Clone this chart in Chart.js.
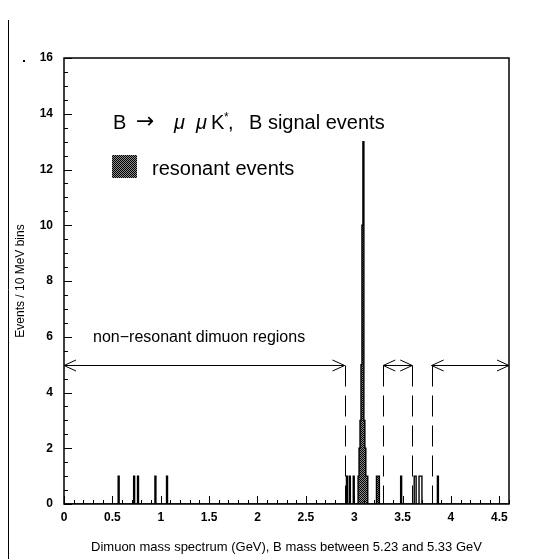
<!DOCTYPE html>
<html><head><meta charset="utf-8">
<script src="https://cdn.jsdelivr.net/npm/chart.js@4.4.1/dist/chart.umd.min.js"></script>
<style>html,body{margin:0;padding:0;background:#fff}canvas{display:block}</style>
</head><body>
<canvas id="c" width="557" height="559"></canvas>
<script>
// ---- data (bin low edges in GeV, 10 MeV bins) ----
const binWidth = 0.01;
const xMin = 0, xMax = 4.6;
const allEventBins   = [0.57,0.73,0.77,0.95,1.07,2.93,2.96,3.00,3.05,3.06,3.07,3.08,3.09,3.10,3.11,3.12,3.13,3.14,3.24,3.25,3.26,3.49,3.63,3.64,3.68,3.69,3.70,3.87];
const allEventCounts = [1,   1,   1,   1,   1,   1,   1,   1,   1,   2,   3,   5,   10,  13,  3,   2,   1,   1,   1,   1,   1,   1,   1,   1,   1,   1,   1,   1];
const resonantBins   = [3.05,3.06,3.07,3.08,3.09,3.10,3.11,3.12,3.13,3.14,3.24,3.25,3.26];
const resonantCounts = [1,   2,   3,   5,   10,  13,  3,   2,   1,   1,   1,   1,   1];
const xTickLabels = ['0','0.5','1','1.5','2','2.5','3','3.5','4','4.5'];
const yTickLabels = ['0','2','4','6','8','10','12','14','16'];
const regionRanges = [[0,2.9],[3.3,3.6],[3.8,4.6]];
const cutLines = [2.9,3.3,3.6,3.8];
const arrowLevel = 5;

function histPoints(bins, counts) {
  const n = Math.round((xMax - xMin) / binWidth);
  const arr = new Array(n).fill(0);
  bins.forEach((b, i) => { arr[Math.round((b - xMin) / binWidth)] += counts[i]; });
  const pts = arr.map((c, i) => ({x: xMin + i * binWidth, y: c}));
  pts.push({x: xMax, y: 0});
  return pts;
}

const canvas = document.getElementById('c');
const ctx0 = canvas.getContext('2d');
const patCanvas = document.createElement('canvas');
patCanvas.width = 2; patCanvas.height = 2;
const pg = patCanvas.getContext('2d');
pg.fillStyle = '#8c8c8c'; pg.fillRect(0,0,2,2);
pg.fillStyle = '#000'; pg.fillRect(0,0,1,1); pg.fillRect(1,1,1,1);
const stipple = ctx0.createPattern(patCanvas, 'repeat');

const FONT = '"Liberation Sans", Arial, sans-serif';

const decor = {
  id: 'decor',
  afterDatasetsDraw(chart) {
    const {ctx, chartArea: a, scales: {x, y}} = chart;
    ctx.save();
    ctx.strokeStyle = '#000';
    // dashed cut lines
    ctx.lineWidth = 1;
    ctx.setLineDash([21, 9]);
    const py5 = Math.round(y.getPixelForValue(arrowLevel)) + 0.5;
    cutLines.forEach(v => {
      const px = Math.round(x.getPixelForValue(v)) + 0.5;
      ctx.beginPath(); ctx.moveTo(px, py5); ctx.lineTo(px, y.getPixelForValue(0)); ctx.stroke();
    });
    ctx.setLineDash([]);
    // double arrows
    regionRanges.forEach(([v0, v1]) => {
      const x0 = x.getPixelForValue(v0), x1 = x.getPixelForValue(v1);
      ctx.beginPath();
      ctx.moveTo(x0, py5); ctx.lineTo(x1, py5);
      ctx.moveTo(x0 + 12, py5 - 5.5); ctx.lineTo(x0, py5); ctx.lineTo(x0 + 12, py5 + 5.5);
      ctx.moveTo(x1 - 12, py5 - 5.5); ctx.lineTo(x1, py5); ctx.lineTo(x1 - 12, py5 + 5.5);
      ctx.stroke();
    });
    // inward ticks
    ctx.lineWidth = 1;
    ctx.beginPath();
    for (let k = 0; k <= 32; k++) {
      const v = k * 0.5;
      const py = Math.round(y.getPixelForValue(v)) + 0.5;
      const len = (k % 4 === 0) ? 8 : 4;
      ctx.moveTo(a.left, py); ctx.lineTo(a.left + len, py);
    }
    for (let k = 0; k <= 46; k++) {
      const v = k * 0.1;
      const px = Math.round(x.getPixelForValue(v)) + 0.5;
      const len = (k % 5 === 0) ? 8 : 4;
      ctx.moveTo(px, a.bottom); ctx.lineTo(px, a.bottom - len);
    }
    ctx.stroke();
    // frame
    ctx.lineWidth = 1.5;
    ctx.strokeRect(a.left, a.top, a.right - a.left, a.bottom - a.top);
    // outer left line and small dot
    ctx.lineWidth = 1;
    ctx.beginPath(); ctx.moveTo(8.5, 20); ctx.lineTo(8.5, 559); ctx.stroke();
    ctx.fillStyle = '#000';
    ctx.fillRect(23, 60, 2, 2);
    ctx.restore();
  },
  afterDraw(chart) {
    const {ctx, scales: {x}} = chart;
    ctx.save();
    ctx.fillStyle = '#000';
    ctx.textBaseline = 'alphabetic';
    ctx.textAlign = 'left';
    // title line
    const by = 129;
    ctx.font = '20px ' + FONT;
    ctx.fillText('B', 113, by);
    ctx.font = '22px "DejaVu Sans", sans-serif';
    ctx.fillText('\u2192', 136, by - 1);
    ctx.font = 'italic 20px ' + FONT;
    ctx.fillText('\u03bc', 174, by);
    ctx.fillText('\u03bc', 196, by);
    ctx.font = '20px ' + FONT;
    ctx.fillText('K', 211, by);
    ctx.font = '12px ' + FONT;
    ctx.fillText('*', 224, by - 8);
    ctx.font = '20px ' + FONT;
    ctx.fillText(',', 228, by);
    ctx.fillText('B signal events', 249, by);
    // legend
    ctx.fillStyle = stipple;
    ctx.fillRect(112, 155, 25, 23);
    ctx.fillStyle = '#000';
    ctx.font = '20px ' + FONT;
    ctx.fillText('resonant events', 152, 175);
    // region label
    ctx.font = '16px ' + FONT;
    ctx.fillText('non\u2212resonant dimuon regions', x.getPixelForValue(0.3), 342);
    ctx.restore();
  }
};

new Chart(canvas, {
  type: 'line',
  data: {
    datasets: [
      {
        label: 'all events',
        data: histPoints(allEventBins, allEventCounts),
        stepped: 'after',
        borderColor: '#000',
        borderWidth: 1.4,
        pointRadius: 0,
        fill: false,
        order: 0
      },
      {
        label: 'resonant events',
        data: histPoints(resonantBins, resonantCounts),
        stepped: 'after',
        borderWidth: 0,
        borderColor: 'rgba(0,0,0,0)',
        backgroundColor: stipple,
        pointRadius: 0,
        fill: 'origin',
        order: 1
      }
    ]
  },
  options: {
    responsive: false,
    animation: false,
    devicePixelRatio: 1,
    layout: {padding: {left: 0, right: 48, top: 58, bottom: 0}},
    plugins: {legend: {display: false}, tooltip: {enabled: false}},
    scales: {
      x: {
        type: 'linear', min: xMin, max: xMax,
        afterFit(s) { s.height = 55; },
        afterBuildTicks(s) { s.ticks = xTickLabels.map(l => ({value: parseFloat(l)})); },
        grid: {display: false, drawTicks: false},
        border: {display: false},
        ticks: {
          padding: 6, color: '#000', maxRotation: 0, autoSkip: false,
          font: {family: FONT, size: 12, weight: 'bold'},
          callback: (v, i) => xTickLabels[i]
        },
        title: {
          display: true, text: 'Dimuon mass spectrum (GeV), B mass between 5.23 and 5.33 GeV',
          color: '#000', font: {family: FONT, size: 13}, padding: {top: 0, bottom: 4}
        }
      },
      y: {
        type: 'linear', min: 0, max: 16,
        afterFit(s) { s.width = 64; },
        afterBuildTicks(s) { s.ticks = yTickLabels.map(l => ({value: parseFloat(l)})); },
        grid: {display: false, drawTicks: false},
        border: {display: false},
        ticks: {
          padding: 11, color: '#000', autoSkip: false,
          font: {family: FONT, size: 12, weight: 'bold'},
          callback: (v, i) => yTickLabels[i]
        },
        title: {
          display: true, text: 'Events / 10 MeV bins',
          color: '#000', font: {family: FONT, size: 12}, padding: {top: 13, bottom: 0}
        }
      }
    }
  },
  plugins: [decor]
});
</script>
</body></html>
